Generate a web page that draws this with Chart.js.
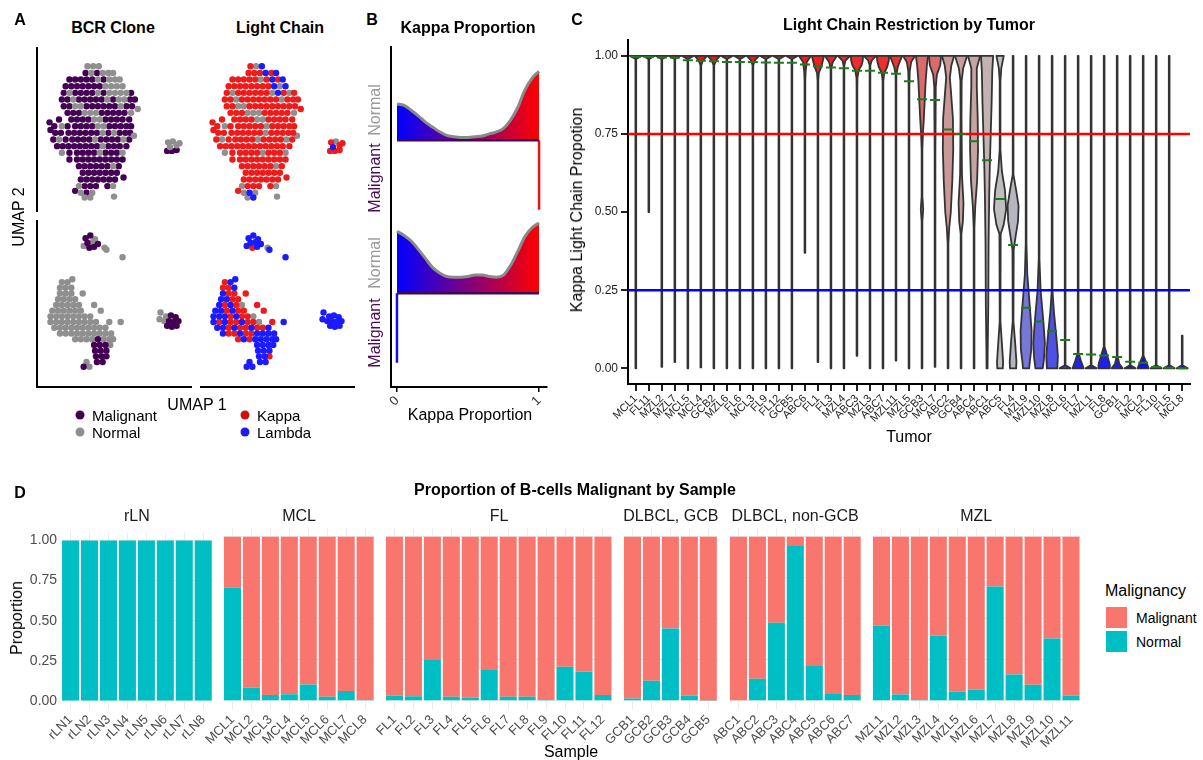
<!DOCTYPE html>
<html>
<head>
<meta charset="utf-8">
<script src="https://cdn.jsdelivr.net/npm/chart.js@4.4.1/dist/chart.umd.min.js"></script>
<style>
  body { margin: 0; background: #fff; }
  #page { position: relative; width: 1203px; height: 760px; overflow: hidden; font-family: "Liberation Sans", Arial, sans-serif; }
  #page canvas { position: absolute; }
  .t { position: absolute; white-space: nowrap; line-height: 1; color: #000; }
  .rule { position: absolute; background: #000; }
  .dot { position: absolute; width: 9px; height: 9px; border-radius: 50%; transform: translate(-50%, -50%); }
  .key { position: absolute; width: 21px; height: 21px; }
</style>
</head>
<body>
<div id="page"></div>
<script>
// ---------- A: UMAP cells, [umap1, umap2, clone+chain code] ----------
// code: first letter M/N = malignant/normal, second K/L/N = kappa/lambda/none
const umapTop = [
  [4.9,14.9,'NK'],[5.5,14.9,'NN'],[6.1,14.9,'NL'],
  [4.7,14.2,'MK'],[5.3,14.2,'NK'],[5.9,14.2,'MK'],[6.5,14.2,'NL'],[7.1,14.2,'NK'],[7.6,14.2,'NL'],
  [3.0,13.5,'MK'],[3.6,13.5,'MK'],[4.2,13.5,'MK'],[4.8,13.5,'MK'],[5.4,13.5,'MK'],[6.0,13.5,'NN'],[6.6,13.5,'MK'],[7.2,13.5,'NL'],[7.8,13.5,'NK'],[8.3,13.5,'NL'],
  [2.6,12.8,'MK'],[3.2,12.8,'MK'],[3.8,12.8,'MK'],[4.4,12.8,'MK'],[5.0,12.8,'MK'],[5.6,12.8,'MK'],[6.2,12.8,'MK'],[6.8,12.8,'NK'],[7.4,12.8,'NL'],[8.0,12.8,'NN'],[8.6,12.8,'NL'],
  [2.4,12.1,'MK'],[3.0,12.1,'NN'],[3.6,12.1,'MK'],[4.2,12.1,'MK'],[4.8,12.1,'MK'],[5.4,12.1,'MK'],[6.0,12.1,'NK'],[6.6,12.1,'MK'],[7.2,12.1,'NN'],[7.8,12.1,'NL'],[8.4,12.1,'NK'],[9.0,12.1,'NN'],[9.5,12.1,'MK'],
  [2.2,11.4,'MK'],[2.8,11.4,'MK'],[3.4,11.4,'NN'],[4.0,11.4,'MK'],[4.6,11.4,'MK'],[5.2,11.4,'MK'],[5.8,11.4,'MK'],[6.4,11.4,'MK'],[7.0,11.4,'NK'],[7.6,11.4,'MK'],[8.2,11.4,'NN'],[8.8,11.4,'NK'],[9.4,11.4,'MK'],[9.9,11.4,'MK'],
  [2.4,10.7,'MK'],[3.0,10.7,'MK'],[3.6,10.7,'NN'],[4.2,10.7,'NN'],[4.8,10.7,'MK'],[5.4,10.7,'MK'],[6.0,10.7,'MK'],[6.6,10.7,'MK'],[7.2,10.7,'MK'],[7.8,10.7,'MK'],[8.4,10.7,'NK'],[9.0,10.7,'MK'],[9.6,10.7,'MK'],
  [2.8,10.0,'MK'],[3.4,10.0,'MK'],[4.0,10.0,'MK'],[4.6,10.0,'NN'],[5.2,10.0,'NN'],[5.8,10.0,'NN'],[6.4,10.0,'MK'],[7.0,10.0,'MK'],[7.6,10.0,'MK'],[8.2,10.0,'MK'],[8.8,10.0,'MK'],[9.5,10.0,'NN'],
  [1.9,9.3,'MK'],[3.2,9.3,'MK'],[3.8,9.3,'MK'],[4.4,9.3,'MK'],[5.0,9.3,'MK'],[5.6,9.3,'NN'],[6.2,9.3,'NN'],[6.8,9.3,'MK'],[7.4,9.3,'MK'],[8.0,9.3,'MK'],[8.6,9.3,'MK'],[9.3,9.3,'MK'],
  [1.4,8.6,'MK'],[2.2,8.6,'NN'],[2.8,8.6,'MK'],[3.6,8.6,'MK'],[4.2,8.6,'MK'],[4.8,8.6,'MK'],[5.4,8.6,'MK'],[6.0,8.6,'NK'],[6.6,8.6,'NN'],[7.2,8.6,'MK'],[7.8,8.6,'MK'],[8.4,8.6,'MK'],[9.0,8.6,'MK'],[9.5,8.6,'MK'],
  [1.5,7.9,'MK'],[2.1,7.9,'MK'],[2.9,7.9,'MK'],[3.5,7.9,'MK'],[4.1,7.9,'MK'],[4.7,7.9,'MK'],[5.3,7.9,'MK'],[5.9,7.9,'MK'],[6.5,7.9,'NN'],[7.1,7.9,'MK'],[7.7,7.9,'NK'],[8.3,7.9,'MK'],[8.9,7.9,'MK'],[9.4,7.9,'MK'],
  [1.3,7.2,'MK'],[1.9,7.2,'NN'],[2.6,7.2,'MK'],[3.3,7.2,'MK'],[3.9,7.2,'MK'],[4.5,7.2,'MK'],[5.1,7.2,'MK'],[5.7,7.2,'NN'],[6.3,7.2,'MK'],[6.9,7.2,'MK'],[7.5,7.2,'MK'],[8.1,7.2,'MK'],[8.7,7.2,'NN'],[9.3,7.2,'MK'],
  [1.7,6.5,'MK'],[2.3,6.5,'MK'],[2.9,6.5,'MK'],[3.5,6.5,'MK'],[4.1,6.5,'MK'],[4.7,6.5,'MK'],[5.3,6.5,'MK'],[5.9,6.5,'MK'],[6.5,6.5,'NK'],[7.1,6.5,'MK'],[7.7,6.5,'MK'],[8.3,6.5,'MK'],[9.0,6.5,'MK'],
  [2.2,5.8,'NN'],[3.0,5.8,'MK'],[3.8,5.8,'MK'],[4.4,5.8,'MK'],[5.0,5.8,'MK'],[5.6,5.8,'MK'],[6.2,5.8,'NN'],[6.8,5.8,'MK'],[7.4,5.8,'MK'],[8.0,5.8,'MK'],[8.6,5.8,'NN'],
  [3.0,5.1,'MK'],[3.8,5.1,'MK'],[4.4,5.1,'MK'],[5.0,5.1,'MK'],[5.6,5.1,'MK'],[6.2,5.1,'MK'],[6.8,5.1,'MK'],[7.4,5.1,'MK'],[8.0,5.1,'MK'],[8.6,5.1,'MK'],
  [4.0,4.4,'MK'],[4.6,4.4,'MK'],[5.2,4.4,'MK'],[5.8,4.4,'MK'],[6.4,4.4,'MK'],[7.0,4.4,'MK'],[7.6,4.4,'NN'],[8.2,4.4,'MK'],
  [4.4,3.7,'MK'],[5.0,3.7,'MK'],[5.6,3.7,'MK'],[6.2,3.7,'MK'],[6.8,3.7,'MK'],[7.4,3.7,'MK'],[8.0,3.7,'MK'],
  [4.2,3.0,'MK'],[4.8,3.0,'MK'],[5.4,3.0,'MK'],[6.0,3.0,'MK'],[6.6,3.0,'MK'],[7.2,3.0,'MK'],[7.8,3.0,'MK'],
  [4.0,2.3,'NN'],[4.6,2.3,'MK'],[5.2,2.3,'MK'],[5.8,2.3,'MK'],[7.0,2.3,'MK'],[7.6,2.3,'NN'],
  [4.2,1.6,'NN'],[4.8,1.6,'ML'],[5.4,1.6,'NN'],
  [4.6,1.1,'NN'],[5.2,1.1,'NL'],
  [9.8,7.6,'NN'],[1.0,8.2,'MK'],[0.9,9.0,'MK'],[10.2,10.4,'NK'],[7.7,1.2,'NN'],[8.7,3.2,'MK'],[3.6,1.8,'MK'],
  [13.4,6.9,'NK'],[13.9,7.0,'NN'],[14.3,6.6,'NK'],[13.6,6.4,'NL'],[13.3,6.0,'MK'],[13.8,6.0,'MK'],[14.3,6.1,'MK'],[14.6,6.8,'NK']
];
const umapBottom = [
  [4.7,15.2,'ML'],[5.2,15.5,'ML'],[5.7,15.1,'NL'],[4.9,14.7,'ML'],[5.4,14.8,'NL'],[6.0,14.6,'ML'],[5.1,14.2,'MK'],[4.5,14.4,'NL'],[5.6,14.3,'ML'],[6.7,14.2,'NN'],[8.6,13.2,'NL'],[6.9,14.0,'NL'],
  [2.2,10.6,'NK'],[2.8,10.6,'NL'],[3.3,10.9,'NL'],
  [2.0,10.0,'NK'],[2.6,10.0,'NK'],[3.2,10.0,'NL'],
  [2.0,9.4,'NL'],[2.6,9.4,'NK'],[3.2,9.4,'NK'],[4.4,9.4,'NK'],
  [1.8,8.8,'NL'],[2.4,8.8,'NL'],[3.0,8.8,'NK'],[3.6,8.8,'NK'],
  [1.6,8.2,'NL'],[2.2,8.2,'NK'],[2.8,8.2,'NL'],[3.4,8.2,'NK'],[4.0,8.2,'NN'],[5.6,8.2,'NK'],
  [1.2,7.6,'NL'],[1.8,7.6,'NL'],[2.4,7.6,'NK'],[3.0,7.6,'NL'],[3.6,7.6,'NK'],[4.2,7.6,'NK'],[6.3,7.6,'NK'],
  [1.0,7.0,'NL'],[1.6,7.0,'NL'],[2.2,7.0,'NL'],[2.8,7.0,'NK'],[3.4,7.0,'NL'],[4.0,7.0,'NK'],[4.6,7.0,'NK'],[5.2,7.0,'NN'],
  [1.0,6.4,'NL'],[1.6,6.4,'NK'],[2.2,6.4,'NL'],[2.8,6.4,'NK'],[3.4,6.4,'NK'],[4.0,6.4,'NL'],[4.6,6.4,'NK'],[5.2,6.4,'NK'],[5.8,6.4,'NN'],[7.2,6.4,'NK'],[8.4,6.4,'NL'],
  [1.4,5.8,'NL'],[2.0,5.8,'NL'],[2.6,5.8,'NK'],[3.2,5.8,'NL'],[3.8,5.8,'NK'],[4.4,5.8,'NK'],[5.0,5.8,'NL'],[5.6,5.8,'NK'],[6.2,5.8,'NK'],[6.8,5.8,'NL'],
  [2.0,5.2,'NL'],[2.6,5.2,'NK'],[3.2,5.2,'NK'],[3.8,5.2,'NL'],[4.4,5.2,'NK'],[5.0,5.2,'NK'],[5.6,5.2,'NL'],[6.2,5.2,'NL'],[6.8,5.2,'NL'],[7.4,5.2,'NL'],
  [3.6,4.6,'NK'],[4.2,4.6,'NL'],[4.8,4.6,'NK'],[5.4,4.6,'NL'],[6.0,4.6,'ML'],[6.6,4.6,'NL'],[7.2,4.6,'NL'],[7.6,4.6,'NL'],
  [5.6,4.0,'ML'],[6.2,4.0,'ML'],[6.8,4.0,'ML'],[7.3,4.0,'NL'],
  [5.7,3.4,'ML'],[6.3,3.4,'ML'],[6.9,3.4,'ML'],
  [5.8,2.8,'ML'],[6.4,2.8,'ML'],[6.9,2.8,'MK'],
  [5.9,2.2,'ML'],[6.5,2.2,'ML'],[4.8,2.2,'NL'],
  [4.5,1.7,'ML'],[5.1,1.7,'NL'],
  [13.2,7.0,'NL'],[13.7,7.1,'ML'],[14.2,6.9,'ML'],[13.0,6.5,'NL'],[13.5,6.5,'ML'],[14.0,6.4,'ML'],[14.5,6.5,'ML'],[13.3,6.0,'ML'],[13.8,5.9,'ML'],[14.3,6.0,'ML'],[12.6,7.4,'NL'],[12.5,6.7,'NL']
];

// ---------- B: kappa proportion densities ----------
const kappaGrid = [0,0.05,0.1,0.15,0.2,0.25,0.3,0.35,0.4,0.45,0.5,0.55,0.6,0.65,0.7,0.75,0.8,0.85,0.9,0.95,1];
const normalDensityS1 = [0.52,0.50,0.43,0.35,0.26,0.19,0.12,0.07,0.05,0.04,0.04,0.05,0.06,0.09,0.12,0.17,0.29,0.47,0.72,0.89,0.99];
const normalDensityS2 = [0.89,0.83,0.75,0.63,0.50,0.37,0.29,0.24,0.23,0.23,0.24,0.26,0.26,0.24,0.23,0.26,0.40,0.60,0.81,0.94,1.01];
const malignantKappa = [1, 0];
const ridgeBaseNormal = [3.55, 1.35];
const ridgeBaseMalignant = [2.55, 0.35];

// ---------- C: light chain restriction by tumor ----------
const tumors = ['MCL1','FL11','MZL2','MZL7','MCL5','MCL4','GCB2','MZL6','FL6','MCL3','FL9','FL12','GCB5','ABC6','FL1','FL3','MZL4','ABC3','MZL3','ABC7','MZL11','MZL5','GCB3','MCL7','ABC2','GCB4','ABC4','ABC1','ABC5','FL4','MZL9','MZL10','MZL8','MCL6','FL7','MZL1','FL8','GCB1','FL2','MCL2','FL10','FL5','MCL8'];
const tumorMedian = [0.997,0.996,0.995,0.994,0.986,0.984,0.983,0.980,0.980,0.980,0.979,0.978,0.978,0.972,0.967,0.963,0.960,0.952,0.952,0.946,0.943,0.919,0.861,0.859,0.764,0.750,0.727,0.666,0.542,0.395,0.194,0.150,0.119,0.091,0.046,0.044,0.041,0.036,0.021,0.018,0.004,0.002,0.0];
// violin outline knots: [kappa proportion, relative half width]
const violinKnots = [
  [[1,1],[0.99,0.06],[0,0.06]],
  [[1,1],[0.99,0.06],[0.5,0.06]],
  [[1,1],[0.99,0.06],[0.005,0.06]],
  [[1,1],[0.99,0.06],[0.02,0.06]],
  [[1,1],[0.99,0.06],[0,0.06]],
  [[1,1],[0.985,0.35],[0.97,0.06],[0.003,0.06]],
  [[1,1],[0.985,0.35],[0.97,0.06],[0,0.06]],
  [[1,1],[0.99,0.06],[0,0.06]],
  [[1,1],[0.99,0.06],[0,0.06]],
  [[1,1],[0.985,0.3],[0.97,0.06],[0,0.06]],
  [[1,1],[0.99,0.06],[0,0.06]],
  [[1,1],[0.99,0.06],[0,0.06]],
  [[1,1],[0.99,0.06],[0,0.06]],
  [[1,1],[0.98,0.3],[0.95,0.12],[0.92,0.06],[0.37,0.06]],
  [[1,1],[0.98,0.75],[0.965,0.55],[0.945,0.15],[0.92,0.06],[0.02,0.06]],
  [[1,1],[0.98,0.3],[0.96,0.06],[0,0.06]],
  [[1,1],[0.985,0.25],[0.97,0.06],[0,0.06]],
  [[1,1],[0.985,0.95],[0.97,0.75],[0.955,0.3],[0.93,0.08],[0.9,0.06],[0.04,0.06]],
  [[1,1],[0.985,0.3],[0.97,0.06],[0,0.06]],
  [[1,1],[0.985,0.95],[0.965,0.7],[0.945,0.2],[0.92,0.06],[0,0.06]],
  [[1,1],[0.985,0.7],[0.965,0.3],[0.94,0.06],[0.025,0.06]],
  [[1,1],[0.98,0.35],[0.95,0.12],[0.9,0.06],[0,0.06]],
  [[1,1],[0.97,0.8],[0.92,0.6],[0.86,0.45],[0.8,0.3],[0.75,0.15],[0.7,0.06],[0.55,0.06],[0.51,0.2],[0.47,0.06],[0,0.06]],
  [[1,1],[0.97,0.85],[0.94,0.3],[0.9,0.12],[0.8,0.1],[0.7,0.06],[0.005,0.06]],
  [[1,1],[0.97,0.55],[0.93,0.3],[0.88,0.5],[0.8,0.8],[0.7,0.85],[0.6,0.7],[0.5,0.45],[0.45,0.2],[0.4,0.06],[0,0.06]],
  [[1,1],[0.96,0.35],[0.92,0.1],[0.8,0.08],[0.62,0.15],[0.53,0.4],[0.47,0.3],[0.43,0.06],[0,0.06]],
  [[1,1],[0.96,0.45],[0.9,0.45],[0.8,0.6],[0.7,0.65],[0.6,0.5],[0.52,0.2],[0.45,0.06],[0,0.06]],
  [[1,1],[0.95,0.85],[0.85,0.75],[0.75,0.6],[0.65,0.45],[0.55,0.35],[0.4,0.25],[0.2,0.2],[0.05,0.1],[0,0.08]],
  [[1,0.6],[0.96,0.2],[0.92,0.06],[0.7,0.06],[0.63,0.3],[0.57,0.8],[0.51,1.0],[0.46,0.6],[0.43,0.1],[0.15,0.06],[0.08,0.3],[0.02,0.5],[0,0.45]],
  [[1,0.06],[0.62,0.06],[0.57,0.5],[0.52,0.9],[0.47,0.8],[0.42,0.4],[0.38,0.1],[0.15,0.06],[0.08,0.35],[0.02,0.55],[0,0.5]],
  [[1,0.06],[0.4,0.06],[0.3,0.2],[0.2,0.6],[0.12,0.9],[0.06,0.85],[0.02,0.6],[0,0.5]],
  [[1,0.06],[0.35,0.06],[0.25,0.25],[0.15,0.7],[0.08,0.95],[0.03,0.8],[0,0.6]],
  [[1,0.06],[0.25,0.06],[0.18,0.3],[0.1,0.7],[0.04,0.95],[0,0.85]],
  [[1,0.06],[0.01,0.06],[0,0.9]],
  [[1,0.06],[0.05,0.06],[0.025,0.45],[0,0.9]],
  [[1,0.06],[0.01,0.06],[0,0.9]],
  [[1,0.06],[0.07,0.06],[0.04,0.5],[0.015,0.9],[0,0.95]],
  [[1,0.06],[0.04,0.06],[0.015,0.35],[0,0.9]],
  [[1,0.06],[0.01,0.06],[0,0.9]],
  [[1,0.06],[0.04,0.06],[0.015,0.6],[0,0.9]],
  [[1,0.06],[0.01,0.06],[0,0.9]],
  [[1,0.06],[0.01,0.06],[0,0.9]],
  [[0.105,0.06],[0.01,0.06],[0,0.9]]
];
const kappaCutoffs = [0.75, 0.25];
const cutoffColors = ['#ff0000', '#0000ff'];
const yTicksC = [0, 0.25, 0.5, 0.75, 1];

// ---------- D: proportion of B-cells malignant ----------
const rlnSamples = ['rLN1','rLN2','rLN3','rLN4','rLN5','rLN6','rLN7','rLN8'];
const rlnNormal = [1,1,1,1,1,1,1,1];
const rlnMalignant = [0,0,0,0,0,0,0,0];
const mclSamples = ['MCL1','MCL2','MCL3','MCL4','MCL5','MCL6','MCL7','MCL8'];
const mclNormal = [0.69,0.08,0.035,0.04,0.10,0.025,0.06,0.01];
const mclMalignant = [0.31,0.92,0.965,0.96,0.90,0.975,0.94,0.99];
const flSamples = ['FL1','FL2','FL3','FL4','FL5','FL6','FL7','FL8','FL9','FL10','FL11','FL12'];
const flNormal = [0.03,0.028,0.248,0.024,0.018,0.187,0.024,0.024,0.010,0.207,0.177,0.035];
const flMalignant = [0.97,0.972,0.752,0.976,0.982,0.813,0.976,0.976,0.99,0.793,0.823,0.965];
const gcbSamples = ['GCB1','GCB2','GCB3','GCB4','GCB5'];
const gcbNormal = [0.014,0.122,0.441,0.030,0.002];
const gcbMalignant = [0.986,0.878,0.559,0.97,0.998];
const abcSamples = ['ABC1','ABC2','ABC3','ABC4','ABC5','ABC6','ABC7'];
const abcNormal = [0.0,0.134,0.476,0.943,0.217,0.041,0.035];
const abcMalignant = [1.0,0.866,0.524,0.057,0.783,0.959,0.965];
const mzlSamples = ['MZL1','MZL2','MZL3','MZL4','MZL5','MZL6','MZL7','MZL8','MZL9','MZL10','MZL11'];
const mzlNormal = [0.457,0.039,0.010,0.398,0.055,0.069,0.697,0.161,0.098,0.380,0.033];
const mzlMalignant = [0.543,0.961,0.99,0.602,0.945,0.931,0.303,0.839,0.902,0.62,0.967];
const yTicksD = [0, 0.25, 0.5, 0.75, 1];

// ---------- setup ----------
const page = document.getElementById('page');
Chart.defaults.font.family = '"Liberation Sans", Arial, sans-serif';
Chart.defaults.color = '#222';
Chart.defaults.animation = false;
Chart.defaults.plugins.legend.display = false;
Chart.defaults.plugins.tooltip.enabled = false;

function makeCanvas(left, top, w, h) {
  const c = document.createElement('canvas');
  c.width = w; c.height = h;
  c.style.left = left + 'px'; c.style.top = top + 'px';
  c.style.width = w + 'px'; c.style.height = h + 'px';
  page.appendChild(c);
  return c;
}

function label(text, x, y, opt = {}) {
  const d = document.createElement('div');
  d.className = 't';
  d.textContent = text;
  d.style.left = x + 'px';
  d.style.top = y + 'px';
  d.style.fontSize = (opt.size || 16) + 'px';
  if (opt.bold) d.style.fontWeight = 'bold';
  if (opt.color) d.style.color = opt.color;
  let tf = opt.left ? 'translate(0,-50%)' : 'translate(-50%,-50%)';
  if (opt.rotate) tf += ' rotate(' + opt.rotate + 'deg)';
  d.style.transform = tf;
  page.appendChild(d);
}

function rule(x, y, w, h) {
  const d = document.createElement('div');
  d.className = 'rule';
  Object.assign(d.style, { left: x + 'px', top: y + 'px', width: w + 'px', height: h + 'px' });
  page.appendChild(d);
}

// ---------- A ----------
const clonePalette = { M: '#440154', N: '#8f8f8f' };
const chainPalette = { K: '#ee1b1b', L: '#1b1bff', N: '#8f8f8f' };

function umapPanel(left, top, h, yMax, points, slot, palette, drawOrder) {
  const cv = makeCanvas(left, top, 155, h);
  const datasets = drawOrder.map(code => ({
    data: points.filter(p => p[2][slot] === code).map(p => ({ x: p[0], y: p[1] })),
    backgroundColor: palette[code],
    borderWidth: 0,
    pointRadius: 3.2
  }));
  new Chart(cv, {
    type: 'scatter',
    data: { datasets },
    options: {
      responsive: false, devicePixelRatio: 1,
      layout: { padding: 0 },
      scales: {
        x: { display: false, min: 0, max: 15.5 },
        y: { display: false, min: 0, max: yMax }
      }
    }
  });
}
umapPanel(37, 47, 165, 16.5, umapTop, 0, clonePalette, ['N', 'M']);
umapPanel(200, 47, 165, 16.5, umapTop, 1, chainPalette, ['L', 'K', 'N']);
umapPanel(37, 220, 167, 16.7, umapBottom, 0, clonePalette, ['M', 'N']);
umapPanel(200, 220, 167, 16.7, umapBottom, 1, chainPalette, ['L', 'K', 'N']);
rule(36, 47, 2, 165);
rule(36, 220, 2, 168);
rule(36, 386, 156, 2);
rule(200, 386, 155, 2);

label('A', 20, 20, { bold: true });
label('BCR Clone', 113, 28, { bold: true });
label('Light Chain', 280, 28, { bold: true });
label('UMAP 2', 19, 217, { rotate: -90 });
label('UMAP 1', 197, 405);
[['Malignant', '#440154', 80, 415], ['Normal', '#8f8f8f', 80, 432], ['Kappa', '#cc1111', 245, 415], ['Lambda', '#1b1bee', 245, 432]].forEach(([txt, col, x, y]) => {
  const d = document.createElement('div');
  d.className = 'dot';
  d.style.left = x + 'px'; d.style.top = y + 'px'; d.style.background = col;
  page.appendChild(d);
  label(txt, x + 12, y, { left: true, size: 15 });
});

// ---------- B ----------
function kappaGradient(context) {
  const chart = context.chart;
  if (!chart.chartArea) return 'rgba(0,0,0,0)';
  const xs = chart.scales.x;
  const g = chart.ctx.createLinearGradient(xs.getPixelForValue(0), 0, xs.getPixelForValue(1), 0);
  g.addColorStop(0, '#0000ff');
  g.addColorStop(1, '#ff0000');
  return g;
}
const ridgeSets = [];
[normalDensityS1, normalDensityS2].forEach((dens, s) => {
  const base = ridgeBaseNormal[s];
  ridgeSets.push({
    data: kappaGrid.map((k, i) => ({ x: k, y: base + dens[i] })),
    borderColor: '#8a8a8a', borderWidth: 3, backgroundColor: kappaGradient,
    fill: { value: base }, cubicInterpolationMode: 'monotone', pointRadius: 0, order: 2
  });
  ridgeSets.push({
    data: [{ x: 0, y: base }, { x: 1, y: base }],
    borderColor: '#40084f', borderWidth: 2.5, pointRadius: 0, order: 1
  });
  const mk = malignantKappa[s];
  ridgeSets.push({
    data: [{ x: mk, y: base }, { x: mk, y: ridgeBaseMalignant[s] }],
    borderColor: mk ? '#ee1111' : '#1111ee', borderWidth: 2.5, pointRadius: 0, order: 1
  });
});
new Chart(makeCanvas(360, 30, 200, 400), {
  type: 'line',
  data: { datasets: ridgeSets },
  options: {
    responsive: false, devicePixelRatio: 1,
    layout: { padding: { top: 17, right: 13 } },
    scales: {
      x: {
        type: 'linear', min: -0.042, max: 1.056,
        afterBuildTicks: a => { a.ticks = [{ value: 0 }, { value: 1 }]; },
        afterFit: a => { a.height = 43; },
        ticks: { minRotation: 45, maxRotation: 45, font: { size: 13 }, color: '#333', padding: 1, callback: v => String(v) },
        grid: { drawOnChartArea: false, tickLength: 5, color: '#000', lineWidth: 1.5 },
        border: { color: '#000', width: 2 }
      },
      y: {
        type: 'linear', min: 0, max: 4.89,
        afterFit: a => { a.width = 31; },
        ticks: { display: false }, grid: { display: false },
        border: { color: '#000', width: 2 }
      }
    }
  }
});
label('B', 372, 20, { bold: true });
label('Kappa Proportion', 468, 28, { bold: true });
label('Kappa Proportion', 470, 415);
label('Normal', 375, 110, { rotate: -90, color: '#9a9a9a' });
label('Malignant', 375, 178, { rotate: -90, color: '#4a0a55' });
label('Normal', 375, 263, { rotate: -90, color: '#9a9a9a' });
label('Malignant', 375, 333, { rotate: -90, color: '#4a0a55' });

// ---------- C ----------
function violinFill(m) {
  const gray = [190, 190, 190];
  const end = m >= 0.5 ? [255, 0, 0] : [0, 0, 255];
  let t = Math.abs(m - 0.5) / 0.5;
  t = m >= 0.5 ? Math.pow(t, 2.5) : Math.pow(t, 2);
  const c = gray.map((g, k) => Math.round(g + (end[k] - g) * t));
  return 'rgb(' + c.join(',') + ')';
}
const violinPlugin = {
  id: 'violins',
  beforeDatasetsDraw(chart) {
    const { ctx, scales: { x, y } } = chart;
    const half = (x.getPixelForValue(1) - x.getPixelForValue(0)) * 0.47;
    ctx.save();
    ctx.lineJoin = 'round';
    violinKnots.forEach((knots, i) => {
      const cx = x.getPixelForValue(i);
      ctx.beginPath();
      knots.forEach(([v, w], k) => {
        const px = cx + w * half, py = y.getPixelForValue(v);
        if (k) ctx.lineTo(px, py); else ctx.moveTo(px, py);
      });
      for (let k = knots.length - 1; k >= 0; k--) {
        ctx.lineTo(cx - knots[k][1] * half, y.getPixelForValue(knots[k][0]));
      }
      ctx.closePath();
      ctx.fillStyle = violinFill(tumorMedian[i]);
      ctx.fill();
      ctx.strokeStyle = '#333';
      ctx.lineWidth = 1.8;
      ctx.stroke();
    });
    ctx.restore();
  }
};
const cSets = kappaCutoffs.map((c, k) => ({
  data: [{ x: -0.6, y: c }, { x: 42.6, y: c }],
  borderColor: cutoffColors[k], borderWidth: 2.5, pointRadius: 0, order: 2
}));
cSets.push({
  data: tumorMedian.map((m, i) => ({ x: i, y: m })),
  showLine: false, pointStyle: 'line', pointRadius: 5,
  pointBorderColor: '#1e7b1e', pointBorderWidth: 2, order: 1
});
new Chart(makeCanvas(560, 30, 643, 420), {
  type: 'line',
  data: { datasets: cSets },
  plugins: [violinPlugin],
  options: {
    responsive: false, devicePixelRatio: 1,
    layout: { padding: { top: 6, right: 13 } },
    scales: {
      x: {
        type: 'linear', min: -0.6, max: 42.6,
        afterBuildTicks: a => { a.ticks = tumors.map((_, i) => ({ value: i })); },
        afterFit: a => { a.height = 66; },
        ticks: { autoSkip: false, minRotation: 45, maxRotation: 45, font: { size: 11 }, color: '#222', padding: 1, callback: v => tumors[v] || '' },
        grid: { drawOnChartArea: false, tickLength: 7, color: '#222', lineWidth: 2 },
        border: { color: '#000', width: 2 }
      },
      y: {
        type: 'linear', min: -0.05, max: 1.05,
        afterBuildTicks: a => { a.ticks = yTicksC.map(v => ({ value: v })); },
        afterFit: a => { a.width = 68; },
        ticks: { font: { size: 12 }, color: '#222', padding: 3, callback: v => v.toFixed(2) },
        grid: { drawOnChartArea: false, tickLength: 7, color: '#222', lineWidth: 2 },
        border: { color: '#000', width: 2 }
      }
    }
  }
});
label('C', 577, 20, { bold: true });
label('Light Chain Restriction by Tumor', 909, 25, { bold: true });
label('Kappa Light Chain Propotion', 577, 210, { rotate: -90 });
label('Tumor', 909, 437);

// ---------- D ----------
const facets = [
  { strip: 'rLN', samples: rlnSamples, normal: rlnNormal, malignant: rlnMalignant },
  { strip: 'MCL', samples: mclSamples, normal: mclNormal, malignant: mclMalignant },
  { strip: 'FL', samples: flSamples, normal: flNormal, malignant: flMalignant },
  { strip: 'DLBCL, GCB', samples: gcbSamples, normal: gcbNormal, malignant: gcbMalignant },
  { strip: 'DLBCL, non-GCB', samples: abcSamples, normal: abcNormal, malignant: abcMalignant },
  { strip: 'MZL', samples: mzlSamples, normal: mzlNormal, malignant: mzlMalignant }
];
const unitD = 18.95, gapD = 6.8;
let panelLeft = 59.2;
facets.forEach((f, idx) => {
  const n = f.samples.length;
  const panelW = (n + 0.2) * unitD;
  const chartW = n * unitD;
  const chartLeft = panelLeft + 0.1 * unitD;
  const first = idx === 0;
  const padL = first ? 0 : 30;
  const yw = first ? chartLeft : 0;
  const canvasLeft = first ? 0 : chartLeft - padL;
  const canvasW = Math.round(padL + yw + chartW + 8);
  new Chart(makeCanvas(canvasLeft, 520, canvasW, 240), {
    type: 'bar',
    data: {
      labels: f.samples,
      datasets: [
        { label: 'Normal', data: f.normal, backgroundColor: '#00BFC4' },
        { label: 'Malignant', data: f.malignant, backgroundColor: '#F8766D' }
      ]
    },
    options: {
      responsive: false, devicePixelRatio: 1,
      layout: { padding: { top: 8.5, left: padL, right: canvasW - padL - yw - chartW } },
      datasets: { bar: { barPercentage: 0.9, categoryPercentage: 1, borderWidth: 0 } },
      scales: {
        x: {
          stacked: true,
          afterFit: a => { a.height = 51; },
          grid: { color: '#ebebeb', offset: false, drawTicks: false },
          border: { display: false },
          ticks: { autoSkip: false, minRotation: 45, maxRotation: 45, font: { size: 13 }, color: '#4d4d4d', padding: 3 }
        },
        y: {
          stacked: true, min: -0.05, max: 1.05,
          afterBuildTicks: a => { a.ticks = yTicksD.map(v => ({ value: v })); },
          afterFit: a => { a.width = yw; },
          grid: { color: '#ebebeb', drawTicks: false },
          border: { display: false },
          ticks: { display: first, font: { size: 14 }, color: '#4d4d4d', padding: 4, callback: v => v.toFixed(2) }
        }
      }
    }
  });
  label(f.strip, panelLeft + panelW / 2, 516, { color: '#1a1a1a' });
  panelLeft += panelW + gapD;
});
label('D', 20, 493, { bold: true });
label('Proportion of B-cells Malignant by Sample', 575, 490, { bold: true });
label('Proportion', 17, 618, { rotate: -90 });
label('Sample', 571, 752);
label('Malignancy', 1105, 591, { left: true });
[['Malignant', '#F8766D', 607], ['Normal', '#00BFC4', 631]].forEach(([txt, col, y]) => {
  const k = document.createElement('div');
  k.className = 'key';
  k.style.left = '1106px'; k.style.top = y + 'px'; k.style.background = col;
  page.appendChild(k);
  label(txt, 1136, y + 10.5, { left: true, size: 14 });
});
</script>
</body>
</html>
